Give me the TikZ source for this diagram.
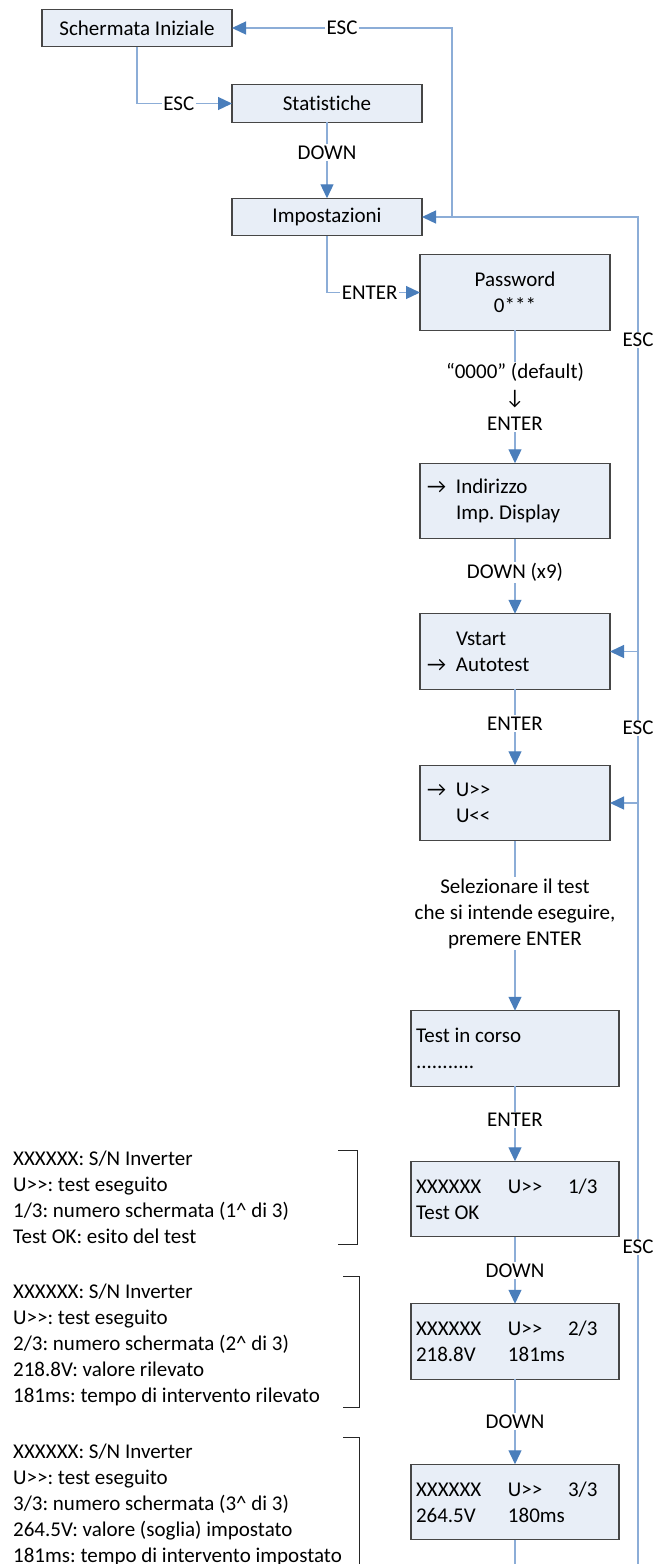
\documentclass[tikz,border=0pt]{standalone}
\usepackage{fontspec}
\setmainfont{Carlito}[Ligatures={TeXOff,NoCommon}]
\usepackage{xcolor}
\usepackage{tikz}
\usetikzlibrary{arrows.meta, positioning, calc}
\definecolor{boxfill}{RGB}{232,238,247}
\definecolor{boxline}{RGB}{70,70,70}
\definecolor{linkblue}{RGB}{140,173,215}
\definecolor{tipblue}{RGB}{74,126,187}

% menu cursor and the three columns of the display
\newcommand{\sel}{\makebox[29pt][l]{→}}
\newcommand{\nosel}{\makebox[29pt][l]{}}
\newcommand{\lcdrow}[3]{\makebox[92pt][l]{#1}\makebox[60pt][l]{#2}#3}

\begin{document}
\frenchspacing
\begin{tikzpicture}[x=1pt, y=1pt,
  font=\fontsize{21}{26}\selectfont,
  box/.style={rectangle, draw=boxline, fill=boxfill, line width=1.2pt,
    minimum width=190pt, minimum height=37.5pt, align=center,
    inner sep=0pt, outer sep=0pt},
  menubox/.style={box, minimum height=75.5pt, text width=176pt, align=flush left},
  lcdbox/.style={box, minimum width=208pt, minimum height=75.5pt,
    text width=198pt, align=flush left},
  arrow/.style={draw=linkblue, line width=1.3pt,
    -{Triangle[length=14pt, width=13pt, color=tipblue]}},
  link/.style={draw=linkblue, line width=1.3pt},
  lbl/.style={fill=white, inner sep=1.5pt},
  note/.style={align=left, inner sep=0pt, anchor=north west},
  bracket/.style={draw=black!85, line width=0.8pt}
]
\useasboundingbox (0,0) rectangle (654,-1564);

\node[box] (ini) at (137,-28) {Schermata Iniziale};
\node[box, below right=38pt and 0pt of ini.south east] (stat) {Statistiche};
\node[box, below=76pt of stat] (imp) {Impostazioni};
\node[box, minimum height=75.5pt, below right=19pt and -2pt of imp.south east] (pwd) {Password\\0***};
\node[menubox, below=133pt of pwd] (addr) {\sel Indirizzo\\\nosel Imp. Display};
\node[menubox, below=75pt of addr] (auto) {\nosel Vstart\\\sel Autotest};
\node[menubox, below=76pt of auto] (sel) {\sel U>>\\\nosel U<<};
\node[lcdbox, below=170pt of sel] (run) {Test in corso\\...........};
\node[lcdbox, below=75pt of run] (scr1) {\lcdrow{XXXXXX}{U>>}{1/3}\\Test OK};
\node[lcdbox, below=67pt of scr1] (scr2) {\lcdrow{XXXXXX}{U>>}{2/3}\\\lcdrow{218.8V}{181ms}{}};
\node[lcdbox, below=85pt of scr2] (scr3) {\lcdrow{XXXXXX}{U>>}{3/3}\\\lcdrow{264.5V}{180ms}{}};

\coordinate (fork) at ($(imp.east)+(30pt,0)$);
\coordinate (railend) at (638,-1564);
\coordinate (flowend) at (scr3 |- railend);

% main flow
\draw[arrow] (ini.south) |- node[lbl, pos=0.72] {ESC} (stat.west);
\draw[arrow] (stat) -- node[lbl, pos=0.4] {DOWN} (imp);
\draw[arrow] (imp.south) |- node[lbl, pos=0.73] {ENTER} (pwd.west);
\draw[arrow] (pwd) -- node[lbl, align=center] {“0000” (default)\\↓\\ENTER} (addr);
\draw[arrow] (addr) -- node[lbl, pos=0.45] {DOWN (x9)} (auto);
\draw[arrow] (auto) -- node[lbl, pos=0.45] {ENTER} (sel);
\draw[arrow] (sel) -- node[lbl, align=center, pos=0.43]
  {Selezionare il test\\che si intende eseguire,\\premere ENTER} (run);
\draw[arrow] (run) -- node[lbl, pos=0.45] {ENTER} (scr1);
\draw[arrow] (scr1) -- node[lbl] {DOWN} (scr2);
\draw[arrow] (scr2) -- node[lbl] {DOWN} (scr3);
\draw[link] (scr3) -- (flowend);

% ESC return rail
\draw[arrow] (railend) |- (imp.east);
\draw[arrow] (fork) |- node[lbl, pos=0.75] {ESC} (ini.east);
\draw[arrow] (railend |- auto.east) -- (auto.east);
\draw[arrow] (railend |- sel.east) -- (sel.east);
\foreach \y/\n in {340/esca, 728/escb, 1247/escc}
  \node[lbl] (\n) at (638,-\y) {ESC};

% notes on the result screens
\node[note] (note1) at (13,-1151) {XXXXXX: S/N Inverter\\U>>: test eseguito\\1/3: numero schermata (1\textasciicircum{} di 3)\\Test OK: esito del test};
\node[note] (note2) at (13,-1284) {XXXXXX: S/N Inverter\\U>>: test eseguito\\2/3: numero schermata (2\textasciicircum{} di 3)\\218.8V: valore rilevato\\181ms: tempo di intervento rilevato};
\node[note] (note3) at (13,-1444) {XXXXXX: S/N Inverter\\U>>: test eseguito\\3/3: numero schermata (3\textasciicircum{} di 3)\\264.5V: valore (soglia) impostato\\181ms: tempo di intervento impostato};

\draw[bracket] (338,-1150) -- (357,-1150) -- (357,-1244) -- (338,-1244);
\draw[bracket] (343,-1276) -- (359,-1276) -- (359,-1407) -- (343,-1407);
\draw[bracket] (343,-1437) -- (359,-1437) -- (359,-1564);

\end{tikzpicture}
\end{document}
